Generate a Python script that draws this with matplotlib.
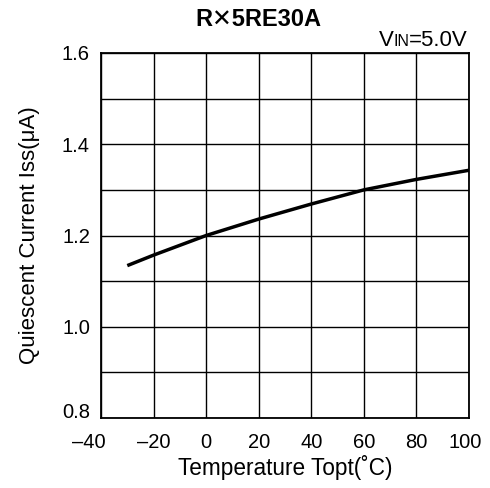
import numpy as np
import matplotlib.pyplot as plt
import matplotlib.transforms as mtransforms

plt.rcParams['font.family'] = ['Liberation Sans', 'DejaVu Sans']

# Quiescent current vs temperature
temp = [-30, -20, 0, 20, 40, 60, 80, 100]
iss = [1.134, 1.157, 1.200, 1.236, 1.269, 1.300, 1.323, 1.343]

xticks = [-40, -20, 0, 20, 40, 60, 80, 100]
yticks = [0.8, 1.0, 1.2, 1.4, 1.6]
ygrid = np.round(np.arange(0.8, 1.61, 0.1), 1)

fig = plt.figure(figsize=(4.9, 4.88), dpi=100)
ax = fig.add_axes([101/490, 1 - 418/488, 368/490, 365/488])

ax.plot(temp, iss, color='black', lw=2.5, solid_capstyle='butt')

ax.set_xlim(-40, 100)
ax.set_ylim(0.8, 1.6)
ax.set_xticks(xticks)
ax.set_xticklabels([str(t).replace('-', '\u2013') for t in xticks])
ax.set_yticks(ygrid)
ax.set_yticklabels([f'{v:.1f}' if v in yticks else '' for v in ygrid])
ax.grid(True, color='black', lw=1.0)
ax.tick_params(length=0, labelsize=14.5, colors='black')
ax.tick_params(axis='x', pad=11)
ax.tick_params(axis='y', pad=8)
for s in ax.spines.values():
    s.set_linewidth(1.3)

# edge labels sit a bit off the corner in the original
lbl = ax.get_xticklabels()[0]
lbl.set_transform(lbl.get_transform() + mtransforms.ScaledTranslation(-12/100, 0, fig.dpi_scale_trans))
lbl = ax.get_xticklabels()[-1]
lbl.set_transform(lbl.get_transform() + mtransforms.ScaledTranslation(-4/100, 0, fig.dpi_scale_trans))
lbl = ax.get_yticklabels()[0]
lbl.set_transform(lbl.get_transform() + mtransforms.ScaledTranslation(0, 8/100, fig.dpi_scale_trans))

ax.set_xlabel('Temperature Topt(\u02daC)', fontsize=16.3, labelpad=2)
ax.set_ylabel('Quiescent Current Iss(\u03bcA)', fontsize=16, labelpad=16)

fig.text(258/490, 1 - 20/488, 'R\u2715 5RE30A'.replace(' ', ''), fontsize=17, fontweight='bold',
         ha='center', va='center')

# V_IN label with small-caps "IN"
fig.canvas.draw()
r = fig.canvas.get_renderer()
yb = 1 - 46/488
t3 = fig.text(468/490, yb, '=5.0V', fontsize=16, ha='right', va='baseline')
w3 = t3.get_window_extent(r).width
t2 = fig.text(468/490 - w3/490, yb, 'IN', fontsize=11.5, ha='right', va='baseline')
w2 = t2.get_window_extent(r).width
fig.text(468/490 - (w3 + w2)/490, yb, 'V', fontsize=16, ha='right', va='baseline')

fig.savefig('out.png', dpi=100)
